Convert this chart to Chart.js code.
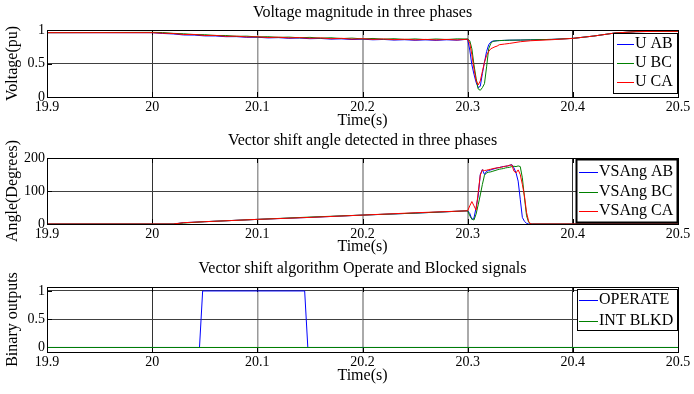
<!DOCTYPE html>
<html><head><meta charset="utf-8">
<script src="https://cdn.jsdelivr.net/npm/chart.js@4.4.0/dist/chart.umd.min.js"></script>
<style>
html,body{margin:0;padding:0;background:#fff;}
#wrap{position:relative;width:694px;height:394px;overflow:hidden;background:#fff;}
canvas{position:absolute;left:0;}
</style></head><body>
<div id="wrap">
<canvas id="c1" width="694" height="130" style="top:0px"></canvas>
<canvas id="c2" width="694" height="126" style="top:130px"></canvas>
<canvas id="c3" width="694" height="138" style="top:256px"></canvas>
</div>
<script>
// ---------------- DATA ----------------
const xTicks = [19.9, 20, 20.1, 20.2, 20.3, 20.4, 20.5];
const yTicksU = [0, 0.5, 1];
const yTicksA = [0, 100, 200];
const yTicksB = [0, 0.5, 1];

// Voltage magnitude (pu)
const tU = [19.9,
  20.00,20.01,20.02,20.03,20.04,20.05,20.06,20.07,20.08,20.09,
  20.10,20.11,20.12,20.13,20.14,20.15,20.16,20.17,20.18,20.19,
  20.20,20.21,20.22,20.23,20.24,20.25,20.26,20.27,20.28,20.29,
  20.300,20.302,20.304,20.306,20.308,20.310,20.312,20.314,20.316,20.318,20.320,20.322,20.324,20.326,20.328,20.330,
  20.335,20.34,20.35,20.36,20.38,20.40,20.42,20.44,20.46,20.48,20.50];
const uAB = [0.96,
  .960,.948,.941,.926,.924,.912,.911,.900,.901,.891,
  .892,.882,.886,.876,.880,.870,.874,.864,.868,.858,
  .863,.854,.859,.850,.855,.847,.853,.846,.854,.848,
  .862,.70,.48,.34,.22,.14,.16,.35,.52,.68,.78,.82,.835,.838,.84,.842,
  .845,.848,.85,.853,.86,.875,.91,.955,.975,.98,.98];
const uBC = [0.96,
  .965,.962,.950,.944,.932,.930,.918,.918,.906,.908,
  .896,.900,.890,.894,.884,.890,.878,.884,.872,.879,
  .867,.874,.863,.870,.859,.867,.857,.866,.858,.868,
  .865,.84,.72,.48,.28,.12,.10,.14,.20,.45,.72,.80,.83,.835,.84,.842,
  .845,.848,.85,.853,.86,.875,.91,.955,.975,.98,.98];
const uCA = [0.96,
  .960,.952,.948,.933,.934,.918,.920,.905,.908,.896,
  .899,.888,.893,.882,.887,.876,.882,.870,.876,.864,
  .870,.860,.866,.856,.862,.853,.860,.852,.860,.852,
  .862,.80,.63,.42,.25,.18,.24,.38,.52,.62,.68,.72,.735,.75,.76,.78,
  .79,.80,.825,.84,.855,.875,.91,.955,.975,.98,.98];

// Vector shift angle (degrees)
const tA = [19.9, 20.00, 20.02, 20.03, 20.05, 20.10, 20.15, 20.20, 20.25,
  20.300,20.302,20.304,20.306,20.308,20.310,20.312,20.314,20.316,20.318,
  20.320,20.322,20.324,20.326,20.328,20.330,20.332,20.334,20.336,20.338,
  20.340,20.342,20.344,20.346,20.348,20.350,20.352,20.354,20.356,20.358,20.360,20.362,
  20.40, 20.50];
const aAB = [0,0,0,4,7,14,20,27,33,
  40,32,14,18,50,85,150,165,150,160,
  162,164,166,168,170,171,173,174,175,176,
  178,180,170,155,130,75,20,8,2,0,0,0,
  0,0];
const aBC = [0,0,0,3,7,14,21,27,33,
  40,25,15,12,30,58,88,120,148,155,
  157,158,160,162,164,166,167,168,170,171,
  172,174,175,174,176,174,140,80,25,5,0,0,
  0,0];
const aCA = [0,0,0,4,7,14,20,27,34,
  40,55,68,55,42,95,148,164,162,163,
  165,166,168,169,170,171,172,174,175,176,
  178,179,160,155,164,150,120,85,35,8,0,0,
  0,0];

// Binary outputs
const tOp = [19.9, 20.045, 20.048, 20.145, 20.148, 20.5];
const operate = [0, 0, 1, 1, 0, 0];
const tBlk = [19.9, 20.5];
const intBlkd = [0, 0];

// ---------------- STYLE / HELPERS ----------------
const FONT = "'Liberation Serif', 'Times New Roman', Times, serif";
Chart.defaults.font.family = FONT;
Chart.defaults.color = '#000';
const BLUE = '#0000ff', GREEN = '#008000', RED = '#ff0000';

const pts = (t, v) => t.map((x, i) => ({x, y: v[i]}));
const xGridColor = ['#000', '#333', '#999', '#aaa', '#aaa', '#333', '#000'];
const xGridWidth = [1, 1, 1.5, 2, 2, 1, 1];

const framePlugin = {
  id: 'frame',
  beforeDatasetsDraw(chart) {
    const {ctx, chartArea: a} = chart;
    ctx.save();
    ctx.strokeStyle = '#000'; ctx.lineWidth = 1;
    const xs = chart.scales.x, ys = chart.scales.y;
    ctx.beginPath();
    xs.ticks.forEach(t => {
      const px = Math.round(xs.getPixelForValue(t.value)) + 0.5;
      ctx.moveTo(px, a.bottom); ctx.lineTo(px, a.bottom - 5);
      ctx.moveTo(px, a.top); ctx.lineTo(px, a.top + 5);
    });
    ys.ticks.forEach(t => {
      const py = Math.round(ys.getPixelForValue(t.value)) + 0.5;
      ctx.moveTo(a.left, py); ctx.lineTo(a.left + 5, py);
      ctx.moveTo(a.right, py); ctx.lineTo(a.right - 5, py);
    });
    ctx.stroke();
    ctx.restore();
  },
  afterDatasetsDraw(chart, args, o) {
    const {ctx, chartArea: a} = chart;
    ctx.save();
    ctx.strokeStyle = '#000'; ctx.lineWidth = 1;
    ctx.strokeRect(Math.round(a.left) + 0.5, Math.round(a.top) + 0.5,
      Math.round(a.right - a.left), Math.round(a.bottom - a.top));
    // plot title
    ctx.font = "16px " + FONT;
    ctx.fillStyle = '#000'; ctx.textAlign = 'center'; ctx.textBaseline = 'middle';
    ctx.fillText(o.title, (a.left + a.right) / 2, o.titleY);
    // legend box
    const L = o.legend;
    ctx.fillStyle = '#fff';
    ctx.fillRect(L.x1, L.y1, L.x2 - L.x1, L.y2 - L.y1);
    ctx.lineWidth = L.bw;
    ctx.strokeStyle = '#000';
    ctx.strokeRect(L.x1 + 0.5, L.y1 + 0.5, L.x2 - L.x1, L.y2 - L.y1);
    chart.data.datasets.forEach((d, i) => {
      const y = L.rows[i];
      ctx.strokeStyle = d.borderColor; ctx.lineWidth = 1;
      ctx.beginPath(); ctx.moveTo(L.lx1, y + 0.5); ctx.lineTo(L.lx2, y + 0.5); ctx.stroke();
      ctx.fillStyle = '#000'; ctx.textAlign = 'left'; ctx.textBaseline = 'middle';
      ctx.fillText(d.label, L.tx, y);
    });
    ctx.restore();
  }
};

function makeChart(id, cfg) {
  return new Chart(document.getElementById(id), {
    type: 'line',
    data: {datasets: cfg.datasets.map(d => ({
      label: d.label, data: d.data, borderColor: d.color, backgroundColor: d.color,
      borderWidth: 1, pointRadius: 0, tension: 0, fill: false, order: d.order
    }))},
    options: {
      responsive: false, animation: false, events: [],
      layout: {padding: {top: cfg.padTop, right: 16, left: 0, bottom: 0}},
      plugins: {legend: {display: false}, tooltip: {enabled: false}, title: {display: false},
        frame: {title: cfg.title, titleY: cfg.titleY, legend: cfg.legend}},
      scales: {
        x: {
          type: 'linear', min: 19.9, max: 20.5,
          afterBuildTicks: s => { s.ticks = xTicks.map(v => ({value: v})); },
          afterFit: s => { s.height = cfg.xBoxH; },
          ticks: {autoSkip: false, maxRotation: 0, padding: 2, font: {size: 14},
            callback: v => String(Number(v.toFixed(1)))},
          grid: {drawTicks: false, color: c => xGridColor[c.index] || '#333',
            lineWidth: c => xGridWidth[c.index] || 1},
          border: {display: false},
          title: {display: true, text: 'Time(s)', font: {size: 16}, padding: {top: 0, bottom: cfg.xTitlePad}}
        },
        y: {
          type: 'linear', min: cfg.yMin, max: cfg.yMax,
          afterBuildTicks: s => { s.ticks = cfg.yTicks.map(v => ({value: v})); },
          afterFit: s => { s.width = 47; },
          ticks: {padding: 2, font: {size: 14}, callback: v => String(v)},
          grid: {drawTicks: false, color: '#404040', lineWidth: 1},
          border: {display: false},
          title: {display: true, text: cfg.yTitle, font: {size: 16}, padding: {top: 3, bottom: 0}}
        }
      }
    },
    plugins: [framePlugin]
  });
}

makeChart('c1', {
  title: 'Voltage magnitude in three phases', titleY: 13, padTop: 30, xBoxH: 33, xTitlePad: 0,
  yTitle: 'Voltage(pu)', yMin: 0, yMax: 1, yTicks: yTicksU,
  legend: {x1: 613, y1: 33, x2: 677, y2: 93, bw: 1, rows: [44, 63, 82], lx1: 617, lx2: 634, tx: 635},
  datasets: [
    {label: 'U AB', data: pts(tU, uAB), color: BLUE, order: 2},
    {label: 'U BC', data: pts(tU, uBC), color: GREEN, order: 1},
    {label: 'U CA', data: pts(tU, uCA), color: RED, order: 0}
  ]
});
makeChart('c2', {
  title: 'Vector shift angle detected in three phases', titleY: 11, padTop: 28, xBoxH: 32, xTitlePad: 0,
  yTitle: 'Angle(Degrees)', yMin: 0, yMax: 200, yTicks: yTicksA,
  legend: {x1: 576, y1: 29, x2: 677, y2: 92, bw: 2, rows: [42, 62, 81], lx1: 579, lx2: 598, tx: 599},
  datasets: [
    {label: 'VSAng AB', data: pts(tA, aAB), color: BLUE, order: 2},
    {label: 'VSAng BC', data: pts(tA, aBC), color: GREEN, order: 1},
    {label: 'VSAng CA', data: pts(tA, aCA), color: RED, order: 0}
  ]
});
makeChart('c3', {
  title: 'Vector shift algorithm Operate and Blocked signals', titleY: 13, padTop: 31, xBoxH: 42, xTitlePad: 9,
  yTitle: 'Binary outputs', yMin: -0.08, yMax: 1.07, yTicks: yTicksB,
  legend: {x1: 577, y1: 33, x2: 677, y2: 74, bw: 1, rows: [44, 65], lx1: 579, lx2: 598, tx: 599},
  datasets: [
    {label: 'OPERATE', data: pts(tOp, operate), color: BLUE, order: 1},
    {label: 'INT BLKD', data: pts(tBlk, intBlkd), color: GREEN, order: 0}
  ]
});
</script>
</body></html>
